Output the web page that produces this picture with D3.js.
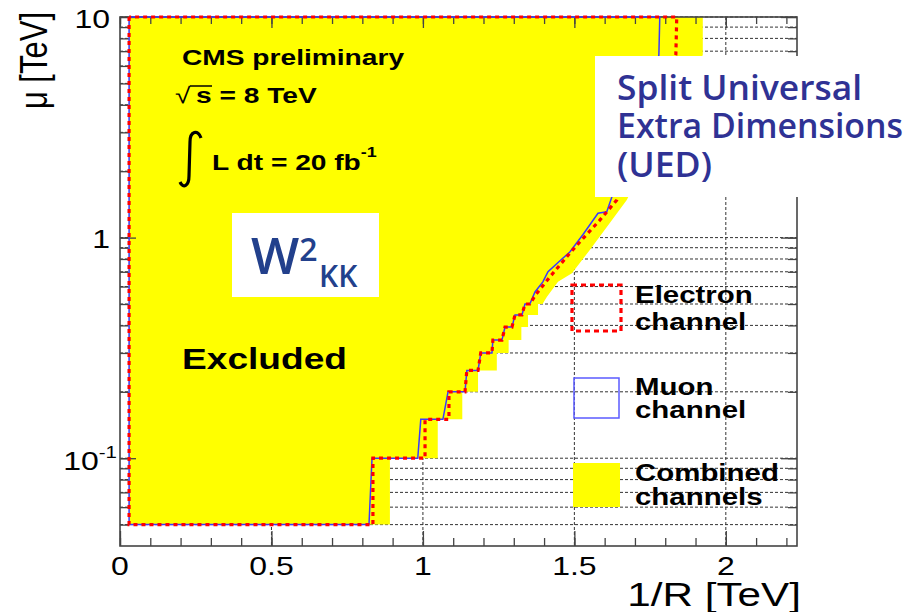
<!DOCTYPE html>
<html>
<head>
<meta charset="utf-8">
<script src="https://cdn.jsdelivr.net/npm/d3@7"></script>
<style>
  body { margin: 0; background: #fff; }
  svg { display: block; }
</style>
</head>
<body>
<div id="chart"></div>
<script>
// excluded region, [1/R (TeV), mu (TeV)]
const combinedLimit = [
  [0.03, 0.05], [0.891, 0.05], [0.891, 0.1], [1.049, 0.1], [1.049, 0.15], [1.130, 0.15],
  [1.130, 0.2], [1.182, 0.2], [1.182, 0.25], [1.244, 0.25], [1.244, 0.3], [1.283, 0.3],
  [1.283, 0.343], [1.325, 0.343], [1.325, 0.393], [1.347, 0.393], [1.347, 0.446],
  [1.380, 0.446], [1.380, 0.5], [1.395, 0.5], [1.409, 0.538], [1.446, 0.63], [1.492, 0.69],
  [1.551, 0.879], [1.617, 1.165], [1.673, 1.48], [1.72, 2.0], [1.78, 3.0], [1.84, 4.5],
  [1.90, 6.2], [1.924, 6.7], [1.924, 10], [0.03, 10]
];

const electronLimit = [
  [0.03, 10], [0.03, 0.05], [0.835, 0.05], [0.835, 0.1], [1.007, 0.1], [1.007, 0.15],
  [1.086, 0.15], [1.086, 0.2], [1.139, 0.2], [1.145, 0.25], [1.182, 0.25], [1.191, 0.3],
  [1.228, 0.3], [1.231, 0.343], [1.261, 0.343], [1.271, 0.393], [1.294, 0.393],
  [1.304, 0.446], [1.327, 0.446], [1.337, 0.5], [1.353, 0.5], [1.372, 0.55], [1.419, 0.663],
  [1.485, 0.85], [1.518, 0.955], [1.584, 1.2], [1.640, 1.48], [1.70, 2.2], [1.76, 3.4],
  [1.80, 4.8], [1.835, 6.73], [1.838, 10], [0.03, 10]
];

const muonLimit = [
  [0.03, 10], [0.03, 0.05], [0.822, 0.05], [0.832, 0.1], [0.983, 0.1], [0.993, 0.15],
  [1.066, 0.15], [1.083, 0.2], [1.139, 0.2], [1.145, 0.25], [1.182, 0.25], [1.191, 0.3],
  [1.228, 0.3], [1.231, 0.343], [1.261, 0.343], [1.271, 0.393], [1.294, 0.393],
  [1.304, 0.446], [1.327, 0.446], [1.337, 0.5], [1.353, 0.5], [1.370, 0.567], [1.396, 0.63],
  [1.413, 0.70], [1.459, 0.80], [1.485, 0.86], [1.528, 1.03], [1.578, 1.29], [1.607, 1.31],
  [1.624, 1.53], [1.68, 2.2], [1.73, 3.4], [1.765, 5.0], [1.779, 6.73], [1.782, 10], [0.03, 10]
];

const xMajorTicks = [0, 0.5, 1, 1.5, 2];
const xTickLabels = ['0', '0.5', '1', '1.5', '2'];
const xMinorTicks = d3.range(0, 23).map(i => i / 10);
const yMajorTicks = [0.1, 1, 10];
const yMinorTicks = [0.01, 0.1, 1]
  .flatMap(dec => d3.range(1, 10).map(k => +(k * dec).toPrecision(2)))
  .filter(v => v >= 0.05)
  .concat([10]);

const width = 919;
const height = 612;
const SX = 1.28;  // the plot was stretched sideways on the slide
const FONT = '"Liberation Sans", Arial, Helvetica, sans-serif';

const svg = d3.select('#chart')
  .append('svg')
  .attr('width', width)
  .attr('height', height)
  .style('font-family', FONT);

svg.append('rect').attr('width', width).attr('height', height).attr('fill', '#fff');

const x = d3.scaleLinear().domain([0, 2.235]).range([120, 797]);
const y = d3.scaleLog().domain([0.04, 10]).range([546, 17]);

// grid (dotted)
const grid = svg.append('g')
  .attr('stroke', '#333')
  .attr('stroke-width', 1)
  .attr('stroke-dasharray', '3,2');

grid.selectAll('line.h')
  .data(yMinorTicks)
  .enter()
  .append('line')
  .attr('class', 'h')
  .attr('x1', x(0)).attr('x2', x(2.235))
  .attr('y1', d => y(d)).attr('y2', d => y(d));

grid.selectAll('line.v')
  .data(xMajorTicks.slice(1))
  .enter()
  .append('line')
  .attr('class', 'v')
  .attr('x1', d => x(d)).attr('x2', d => x(d))
  .attr('y1', y(10)).attr('y2', y(0.04));

const line = d3.line().x(d => x(d[0])).y(d => y(d[1]));

// combined exclusion
svg.append('path')
  .attr('d', line(combinedLimit) + 'Z')
  .attr('fill', '#ffff00');

// axes: ticks point inward on all four sides
function ticks(axis, pos, values, size) {
  const g = svg.append('g')
    .attr('transform', pos)
    .attr('color', '#444')
    .call(axis.tickValues(values).tickSize(size).tickFormat(''));
  g.select('.domain').remove();
  g.selectAll('line').attr('stroke-width', 1.3);
}
ticks(d3.axisBottom(x), `translate(0,${y(0.04)})`, xMinorTicks, -8);
ticks(d3.axisBottom(x), `translate(0,${y(0.04)})`, xMajorTicks, -15);
ticks(d3.axisTop(x), `translate(0,${y(10)})`, xMinorTicks, -7);
ticks(d3.axisTop(x), `translate(0,${y(10)})`, xMajorTicks, -11);
ticks(d3.axisLeft(y), `translate(${x(0)},0)`, yMinorTicks, -9);
ticks(d3.axisLeft(y), `translate(${x(0)},0)`, yMajorTicks, -16);
ticks(d3.axisRight(y), `translate(${x(2.235)},0)`, yMinorTicks, -9);
ticks(d3.axisRight(y), `translate(${x(2.235)},0)`, yMajorTicks, -16);

svg.append('rect')
  .attr('x', x(0)).attr('y', y(10))
  .attr('width', x(2.235) - x(0)).attr('height', y(0.04) - y(10))
  .attr('fill', 'none')
  .attr('stroke', '#444')
  .attr('stroke-width', 1.6);

// muon and electron limits
svg.append('path')
  .attr('d', line(muonLimit))
  .attr('fill', 'none')
  .attr('stroke', '#3a3aff')
  .attr('stroke-width', 1.5);

svg.append('path')
  .attr('d', line(electronLimit))
  .attr('fill', 'none')
  .attr('stroke', '#ff0000')
  .attr('stroke-width', 3.2)
  .attr('stroke-dasharray', '4,4');

// stretched text helper
function label(px, py, str, size, opts = {}) {
  const t = svg.append('text')
    .attr('transform', `translate(${px},${py}) scale(${SX},1)` + (opts.rotate ? ` rotate(${opts.rotate})` : ''))
    .attr('text-anchor', opts.anchor || 'start')
    .attr('font-size', size)
    .attr('font-weight', opts.bold ? 'bold' : 'normal')
    .attr('fill', '#000')
    .text(str);
  return t;
}

// tick labels
svg.selectAll('text.xl')
  .data(xMajorTicks)
  .enter()
  .append('text')
  .attr('class', 'xl')
  .attr('transform', d => `translate(${x(d)},575) scale(${SX},1)`)
  .attr('text-anchor', 'middle')
  .attr('font-size', 25)
  .text((d, i) => xTickLabels[i]);

label(110, y(10) + 11, '10', 25, {anchor: 'end'});
label(110, y(1) + 10, '1', 25, {anchor: 'end'});
const tenth = label(117, y(0.1) + 12, '', 25, {anchor: 'end'});
tenth.append('tspan').text('10');
tenth.append('tspan').attr('dy', -12).attr('font-size', 16).text('-1');

// axis titles
label(801, 606, '1/R [TeV]', 33, {anchor: 'end'});
label(47, 12, 'μ [TeV]', 31, {anchor: 'end', rotate: -90});

// CMS labels
label(182, 65, 'CMS preliminary', 22, {bold: true});
label(175, 103, '√', 22);
svg.append('line')
  .attr('x1', 190).attr('x2', 212)
  .attr('y1', 86).attr('y2', 86)
  .attr('stroke', '#000').attr('stroke-width', 1.5);
label(196, 103, 's = 8 TeV', 22, {bold: true});
svg.append('path')
  .attr('d', 'M201,138 C198,129 190,131 190,142 L189,176 C189,186 183,189 180,182')
  .attr('fill', 'none')
  .attr('stroke', '#000')
  .attr('stroke-width', 3.2);
const lumi = label(212, 170, '', 22, {bold: true});
lumi.append('tspan').text('L dt = 20 fb');
lumi.append('tspan').attr('dy', -13).attr('font-size', 14).text('-1');
label(182, 369, 'Excluded', 29, {bold: true});

// W2_KK box
svg.append('rect')
  .attr('x', 232).attr('y', 213).attr('width', 147).attr('height', 84)
  .attr('fill', '#fff');
const wkk = svg.append('text')
  .attr('x', 251).attr('y', 274)
  .attr('font-family', '"Open Sans", sans-serif')
  .attr('font-weight', 600)
  .attr('fill', '#22408c');
wkk.append('tspan').attr('font-size', 51).text('W');
wkk.append('tspan').attr('font-size', 32).attr('dy', -13).text('2');
wkk.append('tspan').attr('font-size', 30).attr('x', 319).attr('dy', 26).text('KK');

// legend
svg.append('rect')
  .attr('x', 572).attr('y', 285).attr('width', 49).attr('height', 46)
  .attr('fill', 'none')
  .attr('stroke', '#ff0000')
  .attr('stroke-width', 3.2)
  .attr('stroke-dasharray', '5,4');
svg.append('rect')
  .attr('x', 574).attr('y', 378).attr('width', 45).attr('height', 40)
  .attr('fill', 'none')
  .attr('stroke', '#5b5bff')
  .attr('stroke-width', 1.5);
svg.append('rect')
  .attr('x', 573).attr('y', 463).attr('width', 47).attr('height', 44)
  .attr('fill', '#ffff00');
label(635, 303, 'Electron', 23, {bold: true});
label(635, 330, 'channel', 23, {bold: true});
label(635, 395, 'Muon', 23, {bold: true});
label(635, 418, 'channel', 23, {bold: true});
label(635, 481, 'Combined', 23, {bold: true});
label(635, 505, 'channels', 23, {bold: true});

// slide overlay
svg.append('rect')
  .attr('x', 595).attr('y', 56).attr('width', 324).attr('height', 141)
  .attr('fill', '#fff');
const ued = [['Split Universal', 100, 245], ['Extra Dimensions', 138, 286], ['(UED)', 177, 95]];
svg.selectAll('text.ued')
  .data(ued)
  .enter()
  .append('text')
  .attr('class', 'ued')
  .attr('x', 617)
  .attr('y', d => d[1])
  .attr('textLength', d => d[2])
  .attr('lengthAdjust', 'spacingAndGlyphs')
  .attr('font-family', '"Open Sans", sans-serif')
  .attr('font-weight', 600)
  .attr('font-size', 35)
  .attr('fill', '#2f3294')
  .text(d => d[0]);
</script>
</body>
</html>
